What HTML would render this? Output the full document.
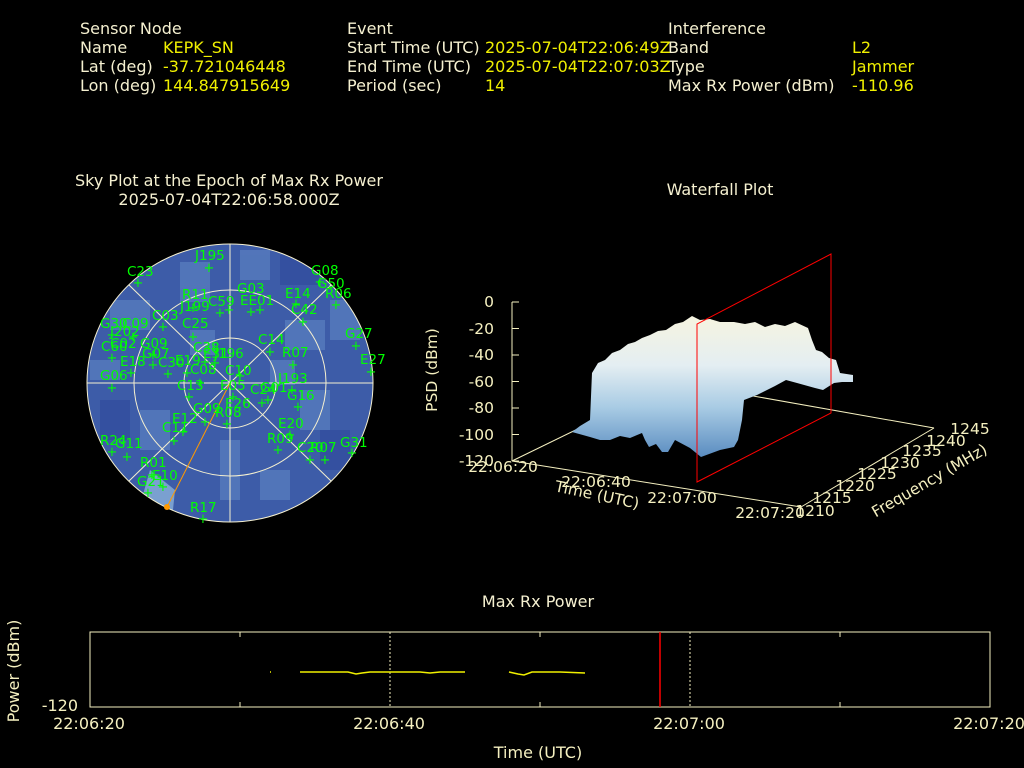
<!DOCTYPE html>
<html><head><meta charset="utf-8"><style>
html,body{margin:0;padding:0;background:#000;width:1024px;height:768px;overflow:hidden}
svg{display:block}
text{font-family:"DejaVu Sans","Liberation Sans",sans-serif}
</style></head><body>
<svg width="1024" height="768" viewBox="0 0 1024 768" xmlns="http://www.w3.org/2000/svg">
<rect width="1024" height="768" fill="#000"/>
<defs>
<clipPath id="sky"><ellipse cx="230" cy="383" rx="143" ry="139"/></clipPath>
<linearGradient id="wf" x1="0" y1="316" x2="0" y2="457" gradientUnits="userSpaceOnUse">
<stop offset="0" stop-color="#f6f4e0"/><stop offset="0.35" stop-color="#e4eef2"/><stop offset="0.65" stop-color="#a8cbe4"/><stop offset="1" stop-color="#5a8cc0"/></linearGradient>
</defs>
<!-- header -->
<g font-size="16" fill="#f5f0d0">
<text x="80" y="34">Sensor Node</text><text x="80" y="53">Name</text><text x="80" y="72">Lat (deg)</text><text x="80" y="91">Lon (deg)</text>
<text x="347" y="34">Event</text><text x="347" y="53">Start Time (UTC)</text><text x="347" y="72">End Time (UTC)</text><text x="347" y="91">Period (sec)</text>
<text x="668" y="34">Interference</text><text x="668" y="53">Band</text><text x="668" y="72">Type</text><text x="668" y="91">Max Rx Power (dBm)</text>
</g>
<g font-size="16" fill="#f0f000">
<text x="163" y="53">KEPK_SN</text><text x="163" y="72">-37.721046448</text><text x="163" y="91">144.847915649</text>
<text x="485" y="53">2025-07-04T22:06:49Z</text><text x="485" y="72">2025-07-04T22:07:03Z</text><text x="485" y="91">14</text>
<text x="852" y="53">L2</text><text x="852" y="72">Jammer</text><text x="852" y="91">-110.96</text>
</g>
<!-- titles -->
<g font-size="16" fill="#f5f0d0" text-anchor="middle">
<text x="229" y="186">Sky Plot at the Epoch of Max Rx Power</text>
<text x="229" y="205">2025-07-04T22:06:58.000Z</text>
<text x="720" y="195">Waterfall Plot</text>
<text x="538" y="607">Max Rx Power</text>
</g>
<!-- sky plot -->
<g clip-path="url(#sky)">
<rect x="80" y="240" width="300" height="290" fill="#3d5ca8"/>
<g fill="#5478bb" opacity="0.9">
<rect x="180" y="262" width="30" height="40"/><rect x="110" y="300" width="40" height="30"/><rect x="285" y="320" width="40" height="30"/>
<rect x="140" y="410" width="30" height="40"/><rect x="300" y="390" width="30" height="40"/><rect x="220" y="440" width="20" height="60"/>
<rect x="240" y="250" width="30" height="30"/><rect x="90" y="360" width="30" height="20"/><rect x="330" y="300" width="30" height="40"/>
<rect x="260" y="470" width="30" height="30"/><rect x="190" y="330" width="25" height="25"/><rect x="270" y="360" width="25" height="25"/>
</g>
<g fill="#3450a0"><rect x="280" y="255" width="40" height="30"/><rect x="100" y="400" width="30" height="40"/><rect x="320" y="430" width="30" height="40"/></g>
<polygon points="150,470 175,490 172,520 140,505" fill="#7aa0d0"/>
</g>
<g fill="none" stroke="#f5f0d0" stroke-width="1">
<ellipse cx="230" cy="383" rx="143" ry="139"/>
<ellipse cx="230" cy="383" rx="96" ry="93"/>
<ellipse cx="230" cy="383" rx="46" ry="45"/>
<line x1="87" y1="383" x2="373" y2="383"/><line x1="230" y1="244" x2="230" y2="522"/>
<line x1="129" y1="285" x2="331" y2="481"/><line x1="331" y1="285" x2="129" y2="481"/>
</g>
<line x1="230" y1="383" x2="167" y2="507" stroke="#ff9900" stroke-width="1"/>
<circle cx="167" cy="507" r="3" fill="#ff9900"/>
<g font-size="13.5" fill="#00ff00">
<text x="195" y="260">J195</text><text x="127" y="276">C23</text><text x="311" y="275">G08</text><text x="317" y="288">G50</text><text x="325" y="298">R06</text>
<text x="285" y="298">E14</text><text x="291" y="314">C42</text><text x="237" y="293">G03</text><text x="240" y="305">EE01</text><text x="182" y="299">R11</text>
<text x="180" y="311">J199</text><text x="208" y="306">C59</text><text x="152" y="320">C03</text><text x="182" y="328">C25</text><text x="100" y="328">G30</text>
<text x="122" y="328">C09</text><text x="110" y="336">J202</text><text x="101" y="351">C60</text><text x="110" y="348">C02</text><text x="140" y="348">G09</text>
<text x="142" y="358">G07</text><text x="120" y="366">E18</text><text x="158" y="367">C30</text><text x="175" y="365">E19</text><text x="190" y="374">C08</text>
<text x="193" y="352">C38</text><text x="203" y="358">E31</text><text x="214" y="358">J196</text><text x="100" y="380">G06</text><text x="177" y="390">C13</text>
<text x="225" y="375">C10</text><text x="220" y="390">E05</text><text x="250" y="394">C24</text><text x="260" y="392">G01</text><text x="278" y="383">J193</text>
<text x="282" y="357">R07</text><text x="258" y="344">C14</text><text x="287" y="400">G16</text><text x="225" y="408">E26</text><text x="215" y="417">R08</text>
<text x="193" y="413">G09</text><text x="172" y="423">E12</text><text x="162" y="432">C11</text><text x="278" y="428">E20</text><text x="267" y="443">R09</text>
<text x="297" y="452">C20</text><text x="310" y="452">R07</text><text x="340" y="447">G31</text><text x="100" y="445">R24</text><text x="115" y="448">G11</text>
<text x="140" y="467">R01</text><text x="152" y="480">E10</text><text x="137" y="486">G21</text><text x="190" y="512">R17</text><text x="345" y="338">G27</text>
<text x="360" y="364">E27</text>
<g font-size="13" text-anchor="middle">
<text x="209" y="272">+</text><text x="138" y="287">+</text><text x="320" y="286">+</text><text x="336" y="309">+</text><text x="296" y="308">+</text>
<text x="303" y="326">+</text><text x="229" y="314">+</text><text x="251" y="316">+</text><text x="260" y="314">+</text><text x="193" y="312">+</text>
<text x="220" y="317">+</text><text x="163" y="331">+</text><text x="193" y="341">+</text><text x="112" y="339">+</text><text x="133" y="341">+</text>
<text x="112" y="362">+</text><text x="153" y="359">+</text><text x="153" y="369">+</text><text x="131" y="377">+</text><text x="168" y="378">+</text>
<text x="187" y="377">+</text><text x="200" y="387">+</text><text x="205" y="366">+</text><text x="215" y="367">+</text><text x="112" y="392">+</text>
<text x="189" y="401">+</text><text x="262" y="407">+</text><text x="268" y="404">+</text><text x="292" y="394">+</text><text x="293" y="369">+</text>
<text x="270" y="356">+</text><text x="298" y="411">+</text><text x="233" y="401">+</text><text x="227" y="428">+</text><text x="205" y="426">+</text>
<text x="183" y="436">+</text><text x="174" y="445">+</text><text x="290" y="439">+</text><text x="278" y="454">+</text><text x="310" y="464">+</text>
<text x="325" y="464">+</text><text x="352" y="457">+</text><text x="112" y="456">+</text><text x="127" y="461">+</text><text x="152" y="479">+</text>
<text x="163" y="491">+</text><text x="148" y="497">+</text><text x="203" y="523">+</text><text x="356" y="350">+</text><text x="371" y="376">+</text>
<text x="240" y="380">+</text>
</g></g>
<!-- waterfall -->
<g stroke="#f5f0c0" stroke-width="1" fill="none">
<line x1="512" y1="302" x2="512" y2="461"/>
<polyline points="512,302 519,302"/><polyline points="512,328.5 519,328.5"/><polyline points="512,355 519,355"/><polyline points="512,381.5 519,381.5"/><polyline points="512,408 519,408"/><polyline points="512,434.5 519,434.5"/><polyline points="512,461 519,461"/>
<line x1="512" y1="461" x2="801" y2="507"/>
<line x1="801" y1="507" x2="934" y2="428"/>
<line x1="934" y1="428" x2="674" y2="382"/>
<line x1="512" y1="461" x2="674" y2="382"/>
</g>
<polygon fill="url(#wf)" points="572,432 580,426 590,420 592,373 598,363 605,360 612,353 620,350 628,344 635,342 642,338 650,335 658,331 666,330 675,324 683,322 692,316 700,320 710,319 720,322 734,322 745,324 755,322 765,327 775,324 785,326 795,322 808,328 812,340 816,350 822,352 829,358 836,360 840,373 853,375 853,382 842,382 834,383 823,390 815,388 797,383 786,380 775,386 757,395 744,400 742,420 738,440 734,447 720,450 701,457 690,448 675,440 668,452 662,452 656,444 649,447 645,440 642,433 630,438 620,436 610,440 600,440 590,437"/>
<g fill="none" stroke="#ff0000" stroke-width="1"><polygon points="697,482 697,324 831,254 831,413"/></g>
<g font-size="15.5" fill="#f5f0c0" text-anchor="end">
<text x="494" y="307">0</text><text x="494" y="334">-20</text><text x="494" y="360">-40</text><text x="494" y="387">-60</text><text x="494" y="413">-80</text><text x="494" y="440">-100</text><text x="494" y="466">-120</text>
</g>
<text transform="translate(437,370) rotate(-90)" font-size="15.5" fill="#f5f0c0" text-anchor="middle">PSD (dBm)</text>
<g font-size="15.5" fill="#f5f0c0" text-anchor="middle">
<text x="503" y="472">22:06:20</text><text x="596" y="487">22:06:40</text><text x="682" y="503">22:07:00</text><text x="770" y="518">22:07:20</text>
<text transform="translate(596,500) rotate(12)">Time (UTC)</text>
<text x="815" y="516">1210</text><text x="832" y="503">1215</text><text x="855" y="491">1220</text><text x="877" y="479">1225</text>
<text x="900" y="468">1230</text><text x="922" y="456">1235</text><text x="946" y="446">1240</text><text x="970" y="434">1245</text>
<text transform="translate(932,485) rotate(-30)">Frequency (MHz)</text>
</g>
<!-- max rx power -->
<rect x="90" y="632" width="900" height="75" fill="none" stroke="#f5f0c0" stroke-width="1"/>
<g stroke="#f5f0c0" stroke-width="1">
<line x1="240" y1="632" x2="240" y2="637"/><line x1="240" y1="707" x2="240" y2="702"/>
<line x1="540" y1="632" x2="540" y2="637"/><line x1="540" y1="707" x2="540" y2="702"/>
<line x1="840" y1="632" x2="840" y2="637"/><line x1="840" y1="707" x2="840" y2="702"/>
<line x1="390" y1="632" x2="390" y2="707" stroke-dasharray="2,2"/>
<line x1="690" y1="632" x2="690" y2="707" stroke-dasharray="2,2"/>
</g>
<line x1="660" y1="632" x2="660" y2="707" stroke="#ff0000" stroke-width="1.5"/>
<g stroke="#f0f000" stroke-width="1.5" fill="none">
<polyline points="300,672 348,672 356,674 362,673 370,672 380,672 395,672 400,672 410,672 420,672 430,673 440,672 465,672"/>
<polyline points="509,672 518,674 524,675 532,672 560,672 585,673"/>
<line x1="270" y1="672" x2="271" y2="672"/>
</g>
<g font-size="16" fill="#f5f0c0">
<text x="78" y="711" text-anchor="end">-120</text>
<text x="89" y="729" text-anchor="middle">22:06:20</text><text x="389" y="729" text-anchor="middle">22:06:40</text>
<text x="689" y="729" text-anchor="middle">22:07:00</text><text x="989" y="729" text-anchor="middle">22:07:20</text>
<text x="538" y="758" text-anchor="middle">Time (UTC)</text>
<text transform="translate(19,671) rotate(-90)" text-anchor="middle">Power (dBm)</text>
</g>
</svg>
</body></html>
